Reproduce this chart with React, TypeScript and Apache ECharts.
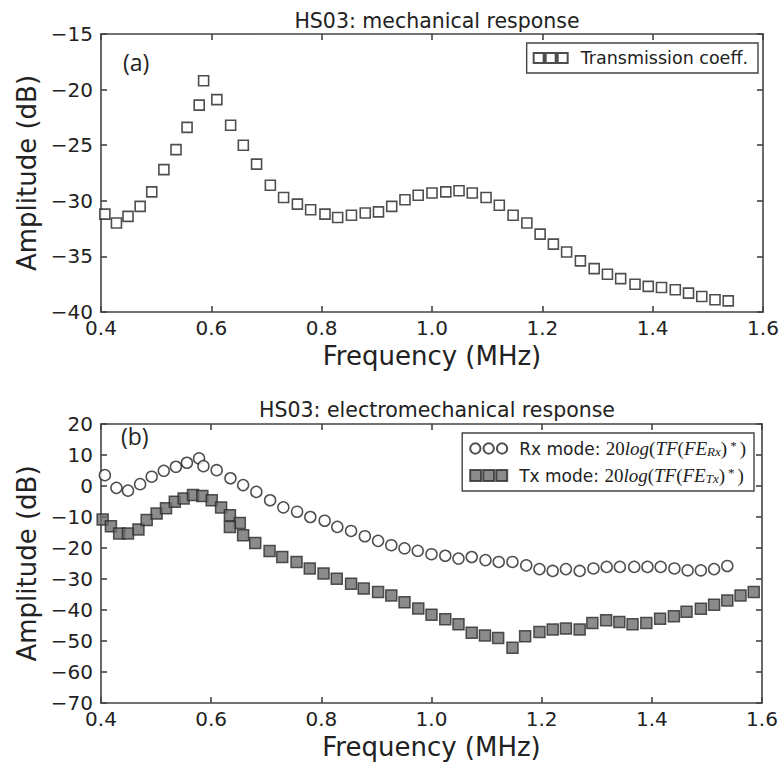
import React, { useEffect, useRef } from "react";
import * as echarts from "echarts";

// Top panel (a): transmission coefficient
const freqA = [0.407, 0.428, 0.449, 0.471, 0.492, 0.514, 0.536, 0.556, 0.578, 0.586, 0.610, 0.635, 0.658, 0.682, 0.707, 0.731, 0.756, 0.780, 0.806, 0.829, 0.854, 0.879, 0.903, 0.927, 0.951, 0.975, 1.000, 1.025, 1.049, 1.073, 1.098, 1.122, 1.147, 1.172, 1.196, 1.220, 1.244, 1.269, 1.294, 1.318, 1.342, 1.368, 1.392, 1.416, 1.441, 1.465, 1.489, 1.513, 1.537];
const transmission = [-31.2, -32.0, -31.4, -30.5, -29.2, -27.2, -25.4, -23.4, -21.4, -19.2, -20.9, -23.2, -25.0, -26.7, -28.6, -29.7, -30.3, -30.8, -31.2, -31.5, -31.3, -31.1, -31.0, -30.5, -29.9, -29.5, -29.3, -29.2, -29.1, -29.3, -29.7, -30.4, -31.3, -32.0, -33.0, -33.9, -34.6, -35.4, -36.1, -36.6, -37.0, -37.5, -37.7, -37.8, -38.0, -38.3, -38.6, -38.9, -39.0];

// Bottom panel (b): Rx mode (same frequencies as panel a)
const freqRx = freqA;
const rxMode = [3.5, -0.6, -1.5, 0.6, 3.0, 4.9, 6.2, 7.5, 8.9, 6.4, 5.1, 2.5, 0.3, -1.9, -4.6, -6.9, -8.3, -10.0, -11.2, -13.2, -14.5, -16.2, -17.7, -19.1, -20.1, -20.9, -22.0, -22.5, -23.4, -22.9, -23.9, -24.5, -24.5, -25.6, -26.8, -27.4, -26.8, -27.4, -26.6, -26.1, -26.1, -26.1, -26.1, -26.1, -26.6, -27.2, -27.2, -26.8, -25.8];

// Bottom panel (b): Tx mode
const freqTx = [0.403, 0.418, 0.433, 0.449, 0.468, 0.483, 0.501, 0.518, 0.534, 0.550, 0.567, 0.584, 0.601, 0.618, 0.634, 0.652, 0.634, 0.658, 0.680, 0.706, 0.729, 0.755, 0.779, 0.804, 0.828, 0.854, 0.877, 0.903, 0.927, 0.951, 0.976, 1.000, 1.025, 1.049, 1.073, 1.097, 1.121, 1.147, 1.170, 1.196, 1.220, 1.244, 1.269, 1.292, 1.317, 1.341, 1.365, 1.390, 1.415, 1.440, 1.463, 1.489, 1.513, 1.537, 1.561, 1.585];
const txMode = [-10.8, -13.0, -15.3, -15.3, -14.0, -11.0, -8.9, -7.2, -5.1, -4.0, -2.9, -3.2, -4.6, -6.9, -9.4, -11.9, -13.2, -15.9, -18.4, -21.0, -22.9, -24.5, -26.6, -28.2, -29.9, -31.5, -33.1, -34.2, -35.3, -37.5, -39.5, -41.5, -43.0, -44.6, -47.3, -48.2, -49.0, -52.2, -48.5, -47.1, -46.3, -46.0, -46.3, -44.2, -43.3, -43.9, -44.6, -44.2, -42.8, -42.0, -40.6, -39.6, -38.3, -36.9, -35.3, -34.2];

const titles = ["HS03: mechanical response", "HS03: electromechanical response"];
const panelLabels = ["(a)", "(b)"];

const FONT = "DejaVu Sans";
const INK = "#222";
const FRAME = "#444";

const pairs = (xs: number[], ys: number[]) => xs.map((x, i) => [x, ys[i]]);
const fmtNum = (v: number, d: number) => {
  const s = Math.abs(v).toFixed(d);
  return v < 0 ? "\u2212" + s : s;
};

const squares3 = "path://M0,0h10v10h-10z M12,0h10v10h-10z M24,0h10v10h-10z";
const circles3 =
  "path://M0,5a5,5 0 1,0 10,0a5,5 0 1,0 -10,0z M13,5a5,5 0 1,0 10,0a5,5 0 1,0 -10,0z M26,5a5,5 0 1,0 10,0a5,5 0 1,0 -10,0z";

export default function App() {
  const ref = useRef<HTMLDivElement>(null);
  useEffect(() => {
    document.body.style.margin = "0";
    document.body.style.overflow = "hidden";
    const chart = echarts.init(ref.current!, null, { renderer: "svg" });

    const lineStyle = { color: FRAME, width: 1.6 };
    const xBase = (gridIndex: number, name: string) => ({
      type: "value",
      gridIndex,
      min: 0.4,
      max: 1.6,
      interval: 0.2,
      name,
      nameLocation: "middle",
      nameGap: 31,
      nameTextStyle: { fontFamily: FONT, fontSize: 26, color: INK },
      axisLine: { show: true, onZero: false, lineStyle },
      axisTick: { show: true, inside: true, length: 6, lineStyle },
      splitLine: { show: false },
      axisLabel: {
        show: true,
        margin: 6,
        fontFamily: FONT,
        fontSize: 20,
        color: INK,
        formatter: (v: number) => v.toFixed(1),
      },
    });
    const xTop = (gridIndex: number) => ({
      type: "value",
      gridIndex,
      position: "top",
      min: 0.4,
      max: 1.6,
      interval: 0.2,
      axisLine: { show: true, onZero: false, lineStyle },
      axisTick: { show: true, inside: true, length: 6, lineStyle },
      splitLine: { show: false },
      axisLabel: { show: false },
    });
    const yLeft = (gridIndex: number, min: number, max: number, interval: number) => ({
      type: "value",
      gridIndex,
      min,
      max,
      interval,
      name: "Amplitude (dB)",
      nameLocation: "middle",
      nameGap: 57,
      nameTextStyle: { fontFamily: FONT, fontSize: 26, color: INK },
      axisLine: { show: true, onZero: false, lineStyle },
      axisTick: { show: true, inside: true, length: 6, lineStyle },
      splitLine: { show: false },
      axisLabel: {
        show: true,
        margin: 8,
        fontFamily: FONT,
        fontSize: 20,
        color: INK,
        formatter: (v: number) => fmtNum(v, 0),
      },
    });
    const yRight = (gridIndex: number, min: number, max: number, interval: number) => ({
      type: "value",
      gridIndex,
      position: "right",
      min,
      max,
      interval,
      axisLine: { show: true, onZero: false, lineStyle },
      axisTick: { show: true, inside: true, length: 6, lineStyle },
      splitLine: { show: false },
      axisLabel: { show: false },
    });

    const mathRich = {
      a: { fontFamily: FONT, fontSize: 17, color: INK },
      m: { fontFamily: "Liberation Serif", fontSize: 19, color: INK },
      i: { fontFamily: "Liberation Serif", fontStyle: "italic", fontSize: 19, color: INK },
      s: { fontFamily: "Liberation Serif", fontStyle: "italic", fontSize: 13, color: INK, verticalAlign: "bottom", padding: [7, 0, 0, 0] },
      p: { fontFamily: "Liberation Serif", fontSize: 13, color: INK, verticalAlign: "top", padding: [0, 3, 7, 3] },
    };

    chart.setOption({
      animation: false,
      backgroundColor: "#fff",
      title: [
        {
          text: titles[0],
          left: 432,
          top: 5,
          textAlign: "center",
          textStyle: { fontFamily: FONT, fontSize: 20.5, fontWeight: "normal", color: INK },
        },
        {
          text: titles[1],
          left: 432,
          top: 394,
          textAlign: "center",
          textStyle: { fontFamily: FONT, fontSize: 20.5, fontWeight: "normal", color: INK },
        },
      ],
      grid: [
        { left: 101, right: 19, top: 34, height: 278, containLabel: false },
        { left: 101, right: 20, top: 424, height: 279, containLabel: false },
      ],
      xAxis: [xBase(0, "Frequency (MHz)"), xTop(0), xBase(1, "Frequency (MHz)"), xTop(1)],
      yAxis: [yLeft(0, -40, -15, 5), yRight(0, -40, -15, 5), yLeft(1, -70, 20, 10), yRight(1, -70, 20, 10)],
      legend: [
        {
          data: [{ name: "Transmission coeff.", icon: squares3 }],
          right: 24,
          top: 43,
          itemWidth: 36,
          itemHeight: 10,
          padding: [6, 10, 6, 6],
          borderColor: FRAME,
          borderWidth: 1.4,
          borderRadius: 0,
          textStyle: { fontFamily: FONT, fontSize: 17.5, color: INK, padding: [0, 0, 0, 7] },
        },
        {
          data: [
            { name: "Rx mode", icon: circles3 },
            { name: "Tx mode", icon: squares3 },
          ],
          orient: "vertical",
          right: 28,
          top: 433,
          itemWidth: 37,
          itemHeight: 11,
          itemGap: 8,
          padding: [6, 8, 6, 7],
          borderColor: FRAME,
          borderWidth: 1.4,
          borderRadius: 0,
          textStyle: { fontFamily: FONT, fontSize: 17, color: INK, lineHeight: 19, padding: [0, 0, 0, 7], rich: mathRich },
          formatter: (name: string) => {
            const sub = name === "Rx mode" ? "Rx" : "Tx";
            return `{a|${name}: }{m|20}{i|log}{m|(}{i|TF}{m|(}{i|FE}{s|${sub}}{m|)}{p|*}{m|)}`;
          },
        },
      ],
      graphic: [
        { type: "text", left: 123, top: 50, style: { text: panelLabels[0], fontFamily: "Open Sans", fontSize: 23, fill: INK } },
        { type: "text", left: 121, top: 424, style: { text: panelLabels[1], fontFamily: "Open Sans", fontSize: 23, fill: INK } },
      ],
      series: [
        {
          name: "Transmission coeff.",
          type: "scatter",
          xAxisIndex: 0,
          yAxisIndex: 0,
          symbol: "rect",
          symbolSize: 10,
          itemStyle: { color: "#fff", borderColor: "#222", borderWidth: 1.6 },
          data: pairs(freqA, transmission),
        },
        {
          name: "Rx mode",
          type: "scatter",
          xAxisIndex: 2,
          yAxisIndex: 2,
          symbol: "circle",
          symbolSize: 11,
          itemStyle: { color: "#fff", borderColor: "#222", borderWidth: 1.5 },
          data: pairs(freqRx, rxMode),
        },
        {
          name: "Tx mode",
          type: "scatter",
          xAxisIndex: 2,
          yAxisIndex: 2,
          symbol: "rect",
          symbolSize: 11,
          itemStyle: { color: "#6e6e6e", borderColor: "#2a2a2a", borderWidth: 1.5 },
          data: pairs(freqTx, txMode),
        },
      ],
    });
    return () => chart.dispose();
  }, []);
  return <div ref={ref} style={{ width: 782, height: 765 }} />;
}
